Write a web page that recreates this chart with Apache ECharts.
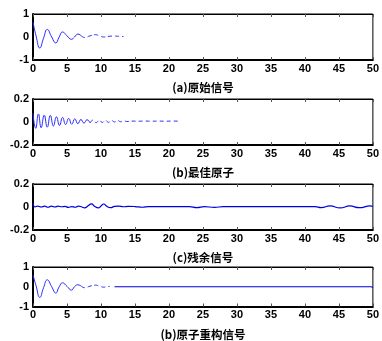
<!DOCTYPE html>
<html><head><meta charset="utf-8">
<script src="https://cdn.jsdelivr.net/npm/echarts@6/dist/echarts.min.js"></script>
<style>html,body{margin:0;padding:0;background:#fff}#c{width:382px;height:341px}</style>
</head><body><div id="c"></div>
<script>
// (a) original signal
const xA = [0, 0.45, 1.0, 1.55, 2.1, 2.75, 3.35, 3.85, 4.35, 5.0, 5.65, 6.1, 6.6, 7.1, 7.6, 8.4, 9.2, 9.8, 10.4, 11.2, 12.0, 12.6, 13.3];
const yA = [0.65, 0.05, -0.48, -0.05, 0.33, 0.0, -0.26, 0.0, 0.22, 0.05, -0.1, 0.0, 0.13, 0.05, -0.02, 0.05, 0.1, 0.05, 0.0, 0.03, 0.04, 0.03, 0.02];
// (b) best atom
const xB = [0, 0.4, 0.8, 1.2, 1.65, 2.1, 2.55, 3.0, 3.45, 3.9, 4.35, 4.8, 5.25, 5.7, 6.15, 6.6, 7.05, 7.5, 7.95, 8.4, 8.85, 9.3, 9.75, 10.2, 10.65, 11.1, 11.55, 12.0, 12.45, 12.9, 13.35, 13.8, 14.5, 15.5, 16.5, 17.5, 18.5, 19.5, 20.5, 21.6];
const yB = [0.075, -0.055, 0.07, -0.05, 0.06, -0.045, 0.058, -0.035, 0.045, -0.03, 0.04, -0.022, 0.032, -0.02, 0.028, -0.015, 0.022, -0.01, 0.02, -0.008, 0.018, -0.006, 0.017, -0.004, 0.015, -0.003, 0.014, 0.0, 0.013, 0.002, 0.012, 0.004, 0.008, 0.007, 0.008, 0.007, 0.008, 0.007, 0.008, 0.007];
// (c) residual signal
const xC = [0, 0.3, 0.7, 1.2, 1.7, 2.2, 2.7, 3.2, 3.7, 4.2, 4.7, 5.2, 5.7, 6.2, 6.7, 7.2, 7.6, 8.1, 8.6, 9.1, 9.6, 10.0, 10.4, 10.9, 11.4, 12.0, 12.6, 13.3, 14.0, 15.0, 16.1, 17.0, 19.0, 21.0, 23.0, 24.1, 25.2, 26.7, 28.0, 32.0, 36.0, 40.0, 41.5, 42.4, 43.7, 45.2, 46.6, 48.0, 49.6, 50.0];
const yC = [0.035, 0.0, 0.008, 0.0, 0.007, -0.002, 0.008, 0.0, 0.007, 0.002, 0.005, -0.003, 0.004, -0.002, 0.008, 0.0, -0.008, 0.01, 0.027, 0.004, -0.008, 0.008, 0.026, 0.004, -0.006, 0.005, 0.008, 0.002, 0.006, 0.004, -0.002, 0.004, 0.004, 0.003, 0.004, -0.005, 0.004, -0.004, 0.004, 0.004, 0.004, 0.004, 0.004, -0.005, 0.009, -0.008, 0.009, -0.006, 0.009, 0.004];
// (d) atom reconstructed signal
const xD = [0, 0.45, 1.0, 1.55, 2.1, 2.75, 3.35, 3.85, 4.35, 5.0, 5.65, 6.1, 6.6, 7.1, 7.6, 8.4, 9.2, 9.8, 10.4, 10.9, 11.3, null, 12.0, 20, 30, 40, 49.7, 50.0];
const yD = [0.6, 0.05, -0.54, -0.05, 0.35, 0.0, -0.32, 0.0, 0.2, 0.02, -0.17, 0.0, 0.1, 0.03, -0.05, 0.03, 0.08, 0.03, -0.02, 0.0, 0.02, null, 0.0, 0.0, 0.0, 0.0, 0.0, -0.04];

const captions = ['(a)原始信号', '(b)最佳原子', '(c)残余信号', '(b)原子重构信号'];
const yRanges = [[-1, 1, 1], [-0.2, 0.2, 0.2], [-0.2, 0.2, 0.2], [-1, 1, 1]];
const xMax = 50, xStep = 5;

const tops = [14, 99, 184, 267];
const heights = [46, 46, 46, 45];
const grids = tops.map((t, i) => ({left: 33, top: t, width: 342, height: heights[i], show: true, borderColor: '#000', borderWidth: 1, containLabel: false}));

const xAxes = [], yAxes = [];
for (let i = 0; i < 4; i++) {
  xAxes.push({
    type: 'value', gridIndex: i, min: 0, max: xMax, interval: xStep, position: 'bottom',
    name: captions[i], nameLocation: 'middle', nameGap: 22,
    nameTextStyle: {fontFamily: 'Noto Sans CJK SC', fontWeight: 'bold', fontSize: 11.5, color: '#000'},
    axisLine: {show: true, onZero: false, lineStyle: {color: '#000', width: 2}},
    axisTick: {show: true, inside: true, length: 3, lineStyle: {color: '#555'}},
    axisLabel: {margin: 3, fontFamily: 'Liberation Sans', fontWeight: 'bold', fontSize: 11, color: '#000'},
    splitLine: {show: false}
  });
  xAxes.push({
    type: 'value', gridIndex: i, min: 0, max: xMax, interval: xStep, position: 'top',
    axisLine: {show: true, onZero: false, lineStyle: {color: '#000', width: 1}},
    axisTick: {show: true, inside: true, length: 3, lineStyle: {color: '#555'}},
    axisLabel: {show: false}, splitLine: {show: false}
  });
  const r = yRanges[i];
  yAxes.push({
    type: 'value', gridIndex: i, min: r[0], max: r[1], interval: r[2],
    axisLine: {show: true, onZero: false, lineStyle: {color: '#000', width: 2}},
    axisTick: {show: false},
    axisLabel: {margin: 4, fontFamily: 'Liberation Sans', fontWeight: 'bold', fontSize: 11, color: '#000',
      formatter: v => (Math.abs(v) < 1e-9 ? '0' : String(+v.toFixed(2)))},
    splitLine: {show: false}
  });
}

function pairs(xs, ys, lo, hi) {
  const out = [];
  for (let k = 0; k < xs.length; k++) {
    if (xs[k] === null) { out.push([null, null]); continue; }
    if (xs[k] >= lo && xs[k] <= hi) out.push([xs[k], ys[k]]);
  }
  return out;
}
const blue = '#2a2aff';
function ser(i, data, dashed, color, width) {
  return {type: 'line', xAxisIndex: i * 2, yAxisIndex: i, data: data, smooth: 0.5, showSymbol: false,
    connectNulls: false, silent: true, animation: false,
    lineStyle: {color: color || blue, width: width || 1, type: dashed ? [4, 3] : 'solid'}};
}
const series = [
  ser(0, pairs(xA, yA, 0, 7.1), false),
  ser(0, pairs(xA, yA, 7.1, 50), true),
  ser(1, pairs(xB, yB, 0, 8.4), false),
  ser(1, pairs(xB, yB, 8.4, 50), true),
  ser(2, pairs(xC, yC, 0, 50), false, '#0000dd', 1.2),
  ser(3, pairs(xD, yD, 0, 7.1), false),
  ser(3, pairs(xD, yD, 7.1, 11.3), true),
  ser(3, pairs(xD, yD, 12.0, 50), false, '#0000dd', 1.2)
];

const chart = echarts.init(document.getElementById('c'), null, {renderer: 'canvas'});
chart.setOption({animation: false, grid: grids, xAxis: xAxes, yAxis: yAxes, series: series});
</script></body></html>
